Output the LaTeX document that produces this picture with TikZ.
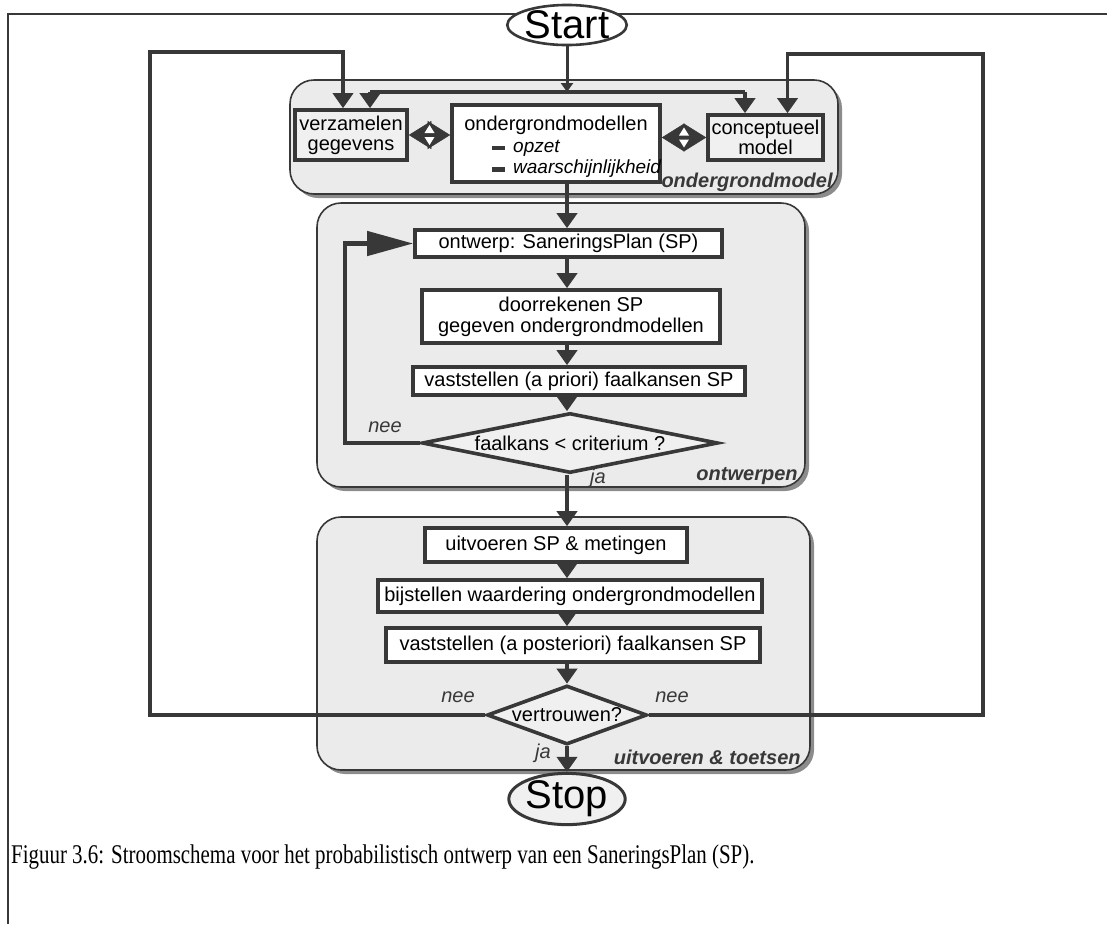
\documentclass[tikz,border=0pt]{standalone}
\usepackage{fontspec}
\setmainfont{Liberation Serif}
\newfontfamily\hv{Liberation Sans}
\usetikzlibrary{shapes.geometric,arrows.meta,calc,shadows}

\definecolor{ink}{gray}{0.22}
\definecolor{panel}{gray}{0.92}
\definecolor{boxgray}{gray}{0.94}
\definecolor{shade}{gray}{0.55}

\tikzset{
  zone/.style={draw=ink, line width=1.6pt, fill=panel, rounded corners=24pt,
    drop shadow={shadow xshift=4pt, shadow yshift=-4pt, fill=shade, opacity=1}},
  proc/.style={draw=ink, line width=3.6pt, fill=white, inner sep=0pt,
    font=\hv\fontsize{20}{23}\selectfont, align=center},
  procgray/.style={proc, fill=boxgray},
  decide/.style={shape=diamond, draw=ink, line width=3.6pt, fill=boxgray,
    inner sep=0pt, font=\hv\fontsize{20}{23}\selectfont},
  terminal/.style={shape=ellipse, draw=ink, line width=2.6pt, inner sep=0pt,
    font=\hv\fontsize{40}{44}\selectfont},
  flow/.style={draw=ink, line width=4.5pt},
  arr/.style={flow, -{Triangle[length=15pt,width=20pt]}},
  looparr/.style={draw=ink, line width=3.5pt, -{Triangle[length=15pt,width=20pt]}},
  bigarr/.style={flow, -{Triangle[length=46pt,width=24pt]}},
  twoway/.style={draw=ink, line width=0.5pt,
    {Triangle[length=22.5pt,width=28pt]}-{Triangle[length=22.5pt,width=28pt]}},
  zonelabel/.style={font=\hv\bfseries\itshape\fontsize{20}{23}\selectfont, text=ink},
  answer/.style={font=\hv\itshape\fontsize{20}{23}\selectfont, text=ink},
  sub/.style={font=\hv\itshape\fontsize{19}{22}\selectfont, anchor=west, inner sep=0pt}
}

\begin{document}
\begin{tikzpicture}[x=1pt,y=-1pt]
\useasboundingbox (0,0) rectangle (1107,924);

% page frame
\draw[ink, line width=1.5pt] (8,924) -- (8,14) -- (1107,14);

% the three stages
\node[zone, minimum width=548pt, minimum height=114pt] (zone1) at (564,137) {};
\node[zone, minimum width=488pt, minimum height=284pt] (zone2) at (561,345) {};
\node[zone, minimum width=493pt, minimum height=253pt] (zone3) at (563.5,643.5) {};

% terminals
\node[terminal, fill=white, minimum width=110pt, minimum height=34pt] (start) at (567,25) {Start};
\node[terminal, fill=boxgray, line width=3pt, minimum width=110pt, minimum height=42pt] (stop) at (567,799) {Stop};

% stage 1: subsoil models
\node[procgray, minimum width=112pt, minimum height=50pt] (verz) at (351,135) {verzamelen\\[-3pt]gegevens};
\node[proc, minimum width=208pt, minimum height=77pt] (ogm) at (556,143.5) {};
\node[font=\hv\fontsize{20}{23}\selectfont, inner sep=0pt] (ogmtitle) at (556,125) {ondergrondmodellen};
\node[sub] (ogmA) at (513,148) {opzet};
\node[sub] (ogmB) at (513,169) {waarschijnlijkheid};
\fill[ink] ($(ogmA.west)+(-21,-2)$) rectangle ($(ogmA.west)+(-8,2)$);
\fill[ink] ($(ogmB.west)+(-21,-2.5)$) rectangle ($(ogmB.west)+(-8,2.5)$);
\node[procgray, minimum width=115pt, minimum height=45pt] (concept) at (765.5,137.5) {conceptueel\\[-3pt]model};

% stage 2: design
\node[proc, minimum width=307pt, minimum height=27pt] (ontwerp) at (568.5,243.5) {ontwerp: SaneringsPlan (SP)};
\node[proc, minimum width=298pt, minimum height=53pt] (doorr) at (571,316.5) {doorrekenen SP\\[-2pt]gegeven ondergrondmodellen};
\node[proc, minimum width=332pt, minimum height=28pt] (vast1) at (579,381) {vaststellen (a priori) faalkansen SP};
\node[decide, aspect=4.9, minimum width=296pt, minimum height=60pt] (dia1) at (570,443) {faalkans < criterium ?};

% stage 3: execution and testing
\node[proc, minimum width=262pt, minimum height=34pt] (uitv) at (556,545) {uitvoeren SP \& metingen};
\node[proc, minimum width=384pt, minimum height=32pt] (bijst) at (570,596) {bijstellen waardering ondergrondmodellen};
\node[proc, minimum width=374pt, minimum height=34pt] (vast2) at (573,645) {vaststellen (a posteriori) faalkansen SP};
\node[decide, aspect=2.7, inner sep=-3pt, minimum width=160pt, minimum height=59pt] (dia2) at (567,715) {vertrouwen?};

% stage names
\node[zonelabel, anchor=south east, inner sep=0pt] (lab1) at ($(zone1.south east)+(-6,-3)$) {ondergrondmodel};
\node[zonelabel, anchor=south east, inner sep=0pt] (lab2) at ($(zone2.south east)+(-8,-3)$) {ontwerpen};
\node[zonelabel, anchor=south east, inner sep=0pt] (lab3) at ($(zone3.south east)+(-10,-6)$) {uitvoeren \& toetsen};

% distribution from Start
\coordinate (jL) at (370,92);
\coordinate (jR) at (745,92);
\draw[flow] (jL) -- (jR);
\draw[draw=ink, line width=3pt, -{Triangle[length=9pt,width=12pt]}] (start.south) -- (start.south |- jL);
\draw[arr] (jL) -- (jL |- verz.north);
\draw[arr] (jR) -- (jR |- concept.north);

% exchange between the subsoil boxes
\draw[twoway] (verz.east) -- (verz.east -| ogm.west);
\draw[twoway] (concept.west -| ogm.east) -- (concept.west);
\fill[white] ($(verz.east)!0.5!(verz.east -| ogm.west)+(0,-2)$) -- ++(-5,0) -- ++(5,-8) -- ++(5,8) -- cycle;
\fill[white] ($(verz.east)!0.5!(verz.east -| ogm.west)+(0,2)$) -- ++(-5,0) -- ++(5,8) -- ++(5,-8) -- cycle;
\fill[white] ($(concept.west)!0.5!(concept.west -| ogm.east)+(0,-2)$) -- ++(-5,0) -- ++(5,-8) -- ++(5,8) -- cycle;
\fill[white] ($(concept.west)!0.5!(concept.west -| ogm.east)+(0,2)$) -- ++(-5,0) -- ++(5,8) -- ++(5,-8) -- cycle;

% main spine
\draw[arr] (ogm.south -| start) -- (ontwerp.north -| start);
\draw[arr] (ontwerp.south -| start) -- (doorr.north -| start);
\draw[arr] (doorr.south -| start) -- (vast1.north -| start);
\draw[arr] (vast1.south -| start) -- (dia1.north -| start);
\draw[arr] (dia1.south -| start) -- (uitv.north -| start);
\draw[arr] (uitv.south -| start) -- (bijst.north -| start);
\draw[arr] (bijst.south -| start) -- (vast2.north -| start);
\draw[arr] (vast2.south -| start) -- (dia2.north);
\draw[arr] (dia2.south) -- (stop.north);

% design loop
\coordinate (innerL) at (345,443);
\draw[bigarr] (dia1.west) -- (innerL) -- (innerL |- ontwerp.west) -- (ontwerp.west);

% feedback loops to stage 1
\coordinate (outerL) at (150,52);
\coordinate (outerR) at (983,54);
\draw[looparr] (dia2.west) -| (outerL) -| ($(verz.north)+(-8,0)$);
\draw[looparr] (dia2.east) -| (outerR) -| ($(concept.north)+(22,0)$);

% answers
\node[answer] (nee1) at (385,427) {nee};
\node[answer] (ja1) at (598,478) {ja};
\node[answer] (nee2) at (458,697) {nee};
\node[answer] (nee3) at (672,697) {nee};
\node[answer] (ja2) at (543,753) {ja};

% caption
\node[anchor=west, inner sep=0pt] (caption) at (11,857)
  {\scalebox{0.775}[1]{\fontsize{27}{30}\selectfont Figuur 3.6: Stroomschema voor het probabilistisch ontwerp van een SaneringsPlan (SP).}};
\end{tikzpicture}
\end{document}
